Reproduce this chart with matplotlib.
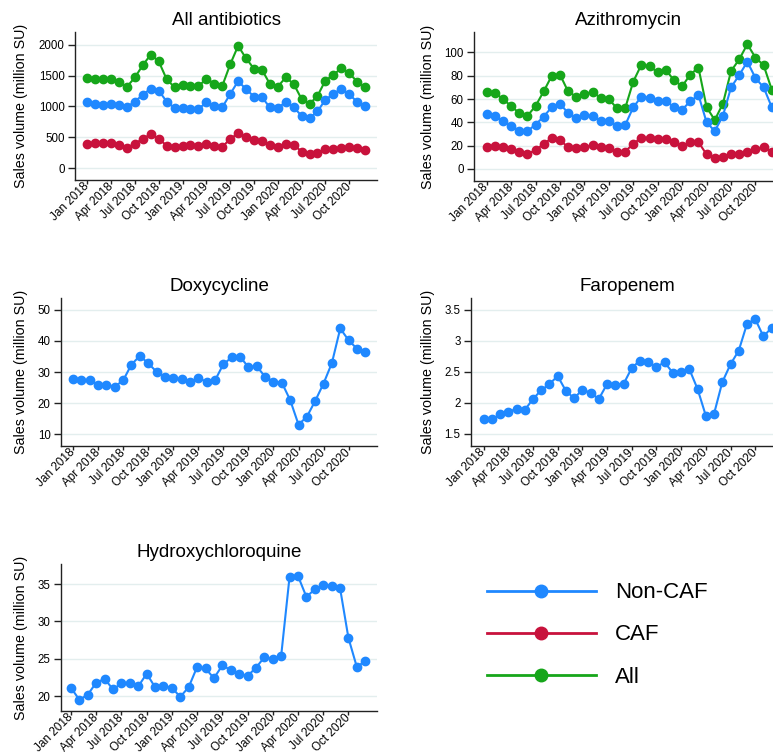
import matplotlib
matplotlib.use("Agg")
import matplotlib.pyplot as plt
from matplotlib.lines import Line2D
import numpy as np

plt.rcParams['font.family'] = ['Liberation Sans', 'DejaVu Sans']

months = ["Jan 2018", "Feb 2018", "Mar 2018", "Apr 2018", "May 2018", "Jun 2018",
          "Jul 2018", "Aug 2018", "Sep 2018", "Oct 2018", "Nov 2018", "Dec 2018",
          "Jan 2019", "Feb 2019", "Mar 2019", "Apr 2019", "May 2019", "Jun 2019",
          "Jul 2019", "Aug 2019", "Sep 2019", "Oct 2019", "Nov 2019", "Dec 2019",
          "Jan 2020", "Feb 2020", "Mar 2020", "Apr 2020", "May 2020", "Jun 2020",
          "Jul 2020", "Aug 2020", "Sep 2020", "Oct 2020", "Nov 2020", "Dec 2020"]
tick_labels = ["Jan 2018", "Apr 2018", "Jul 2018", "Oct 2018",
               "Jan 2019", "Apr 2019", "Jul 2019", "Oct 2019",
               "Jan 2020", "Apr 2020", "Jul 2020", "Oct 2020"]

# All antibiotics
abx_all = [1460, 1445, 1450, 1445, 1390, 1320, 1470, 1670, 1840, 1730, 1440, 1310,
           1340, 1335, 1325, 1450, 1370, 1330, 1680, 1980, 1780, 1610, 1595, 1365,
           1320, 1470, 1365, 1120, 1040, 1170, 1420, 1510, 1620, 1540, 1400, 1310]
abx_noncaf = [1070, 1040, 1030, 1040, 1020, 990, 1080, 1190, 1290, 1255, 1080, 975,
              975, 960, 960, 1065, 1015, 985, 1200, 1410, 1280, 1160, 1150, 985,
              970, 1075, 985, 850, 810, 920, 1110, 1200, 1290, 1195, 1075, 1010]
abx_caf = [390, 405, 415, 405, 375, 335, 395, 480, 550, 480, 365, 345,
           360, 370, 365, 385, 355, 345, 475, 565, 500, 450, 445, 380,
           350, 395, 380, 270, 230, 250, 305, 310, 330, 340, 325, 300]

# Azithromycin
azi_all = [66, 65.5, 60, 54, 48, 45.5, 54, 66.5, 80, 81, 66.5, 62,
           64.5, 66, 61, 60, 52, 52, 75, 89.5, 88, 83, 85, 76,
           71, 81, 87, 53, 42, 56, 84, 94, 107, 95.5, 89, 68]
azi_noncaf = [47, 45.5, 41, 37, 33, 32.5, 38, 45, 53, 56, 48, 43.5,
              46, 45.5, 41, 41.5, 37, 37.5, 53, 62, 61, 58, 58.5, 53,
              51, 58, 63.5, 40, 32.5, 45.5, 70, 80.5, 92, 78, 70, 53]
azi_caf = [19, 20, 19, 17.5, 15, 13, 16, 21.5, 26.5, 25, 18.5, 18,
           18.5, 20.5, 19, 18, 15, 15, 21.5, 27, 26.5, 25.5, 26, 23.5,
           19.5, 23, 23, 12.5, 9, 10.5, 13, 13, 15, 17, 18.5, 15]

# Doxycycline (Non-CAF)
doxy = [27.7, 27.3, 27.5, 25.9, 25.9, 25.3, 27.3, 32.4, 35.2, 32.8, 30.1, 28.5,
        28.1, 27.6, 26.8, 28.0, 26.9, 27.3, 32.5, 34.7, 34.9, 31.6, 31.8, 28.5,
        26.9, 26.6, 21.0, 13.1, 15.6, 20.7, 26.3, 32.9, 44.0, 40.2, 37.5, 36.3]

# Faropenem (Non-CAF)
faro = [1.73, 1.73, 1.81, 1.85, 1.90, 1.88, 2.06, 2.20, 2.30, 2.43, 2.19, 2.07,
        2.21, 2.16, 2.06, 2.30, 2.29, 2.30, 2.56, 2.68, 2.65, 2.58, 2.65, 2.48,
        2.50, 2.54, 2.22, 1.79, 1.82, 2.33, 2.62, 2.84, 3.27, 3.35, 3.07, 3.21]

# Hydroxychloroquine (Non-CAF)
hcq = [21.1, 19.5, 20.2, 21.8, 22.3, 20.9, 21.7, 21.7, 21.3, 23.0, 21.2, 21.4,
       21.1, 19.9, 21.2, 23.9, 23.7, 22.4, 24.1, 23.5, 23.0, 22.7, 23.8, 25.2,
       25.0, 25.4, 36.0, 36.1, 33.3, 34.3, 34.9, 34.8, 34.5, 27.8, 23.9, 24.7]

series_names = ["Non-CAF", "CAF", "All"]
colors = {"Non-CAF": "#1f88ff", "CAF": "#c8123c", "All": "#16a61a"}

W, H = 773, 753
fig = plt.figure(figsize=(W / 100, H / 100), dpi=100)
fig.patch.set_facecolor("white")


def add_ax(left, right, top, bottom):
    return fig.add_axes([left / W, 1 - bottom / H, (right - left) / W, (bottom - top) / H])


x = np.arange(len(months))
tick_pos = [months.index(t) for t in tick_labels]


def style(ax, title, yticks, ytick_labels, ylim, xlim, ylab_x):
    ax.set_xlim(*xlim)
    ax.set_ylim(*ylim)
    ax.set_yticks(yticks)
    ax.set_yticklabels(ytick_labels, fontsize=8.3)
    ax.set_xticks(tick_pos)
    ax.set_xticklabels(tick_labels, fontsize=8.5, rotation=45, ha='right', va='center',
                       rotation_mode='anchor')
    for s in ['top', 'right']:
        ax.spines[s].set_visible(False)
    for s in ['left', 'bottom']:
        ax.spines[s].set_color('#222222')
        ax.spines[s].set_linewidth(1.0)
    ax.tick_params(axis='x', length=3, width=1, color='#222222', pad=0.5)
    ax.tick_params(axis='y', length=5, width=1, color='#222222', pad=2.5)
    ax.grid(axis='y', color='#e3eeee', linewidth=1.0)
    ax.set_axisbelow(True)
    ax.set_title(title, fontsize=13.5, pad=5)
    ax.set_ylabel("Sales volume (million SU)", fontsize=10.3)
    ax.yaxis.set_label_coords(ylab_x, 0.5)


def plot_series(ax, y, name):
    ax.plot(x, y, color=colors[name], lw=1.5, marker='o', ms=6, mec=colors[name],
            clip_on=False, zorder=3)


# Panel 1
ax1 = add_ax(75, 377, 32, 180)
plot_series(ax1, abx_all, "All")
plot_series(ax1, abx_noncaf, "Non-CAF")
plot_series(ax1, abx_caf, "CAF")
style(ax1, "All antibiotics", [0, 500, 1000, 1500, 2000],
      ["0", "500", "1000", "1500", "2000"], (-190, 2205), (-1.55, 36.5), -0.156)

# Panel 2
ax2 = add_ax(474, 784, 32, 181)
plot_series(ax2, azi_all, "All")
plot_series(ax2, azi_noncaf, "Non-CAF")
plot_series(ax2, azi_caf, "CAF")
style(ax2, "Azithromycin", [0, 20, 40, 60, 80, 100],
      ["0", "20", "40", "60", "80", "100"], (-10.3, 117.5), (-1.55, 36.5), -0.126)

# Panel 3
ax3 = add_ax(61, 377, 298, 446)
plot_series(ax3, doxy, "Non-CAF")
style(ax3, "Doxycycline", [10, 20, 30, 40, 50],
      ["10", "20", "30", "40", "50"], (6.2, 53.8), (-1.44, 36.4), -0.104)

# Panel 4
ax4 = add_ax(471, 784, 298, 446)
plot_series(ax4, faro, "Non-CAF")
style(ax4, "Faropenem", [1.5, 2, 2.5, 3, 3.5],
      ["1.5", "2", "2.5", "3", "3.5"], (1.30, 3.69), (-1.53, 36.5), -0.115)

# Panel 5
ax5 = add_ax(61, 377, 564, 711)
plot_series(ax5, hcq, "Non-CAF")
style(ax5, "Hydroxychloroquine", [20, 25, 30, 35],
      ["20", "25", "30", "35"], (18.0, 37.7), (-1.19, 36.4), -0.104)

# Legend
handles = [Line2D([0], [0], color=colors[n], lw=2, marker='o', ms=9) for n in series_names]
fig.legend(handles, series_names, loc='center left',
           bbox_to_anchor=(467 / W, 1 - 635 / H), frameon=False, fontsize=16,
           handlelength=4.9, labelspacing=0.95, handletextpad=0.85)

fig.savefig("out.png", dpi=100, facecolor="white")
